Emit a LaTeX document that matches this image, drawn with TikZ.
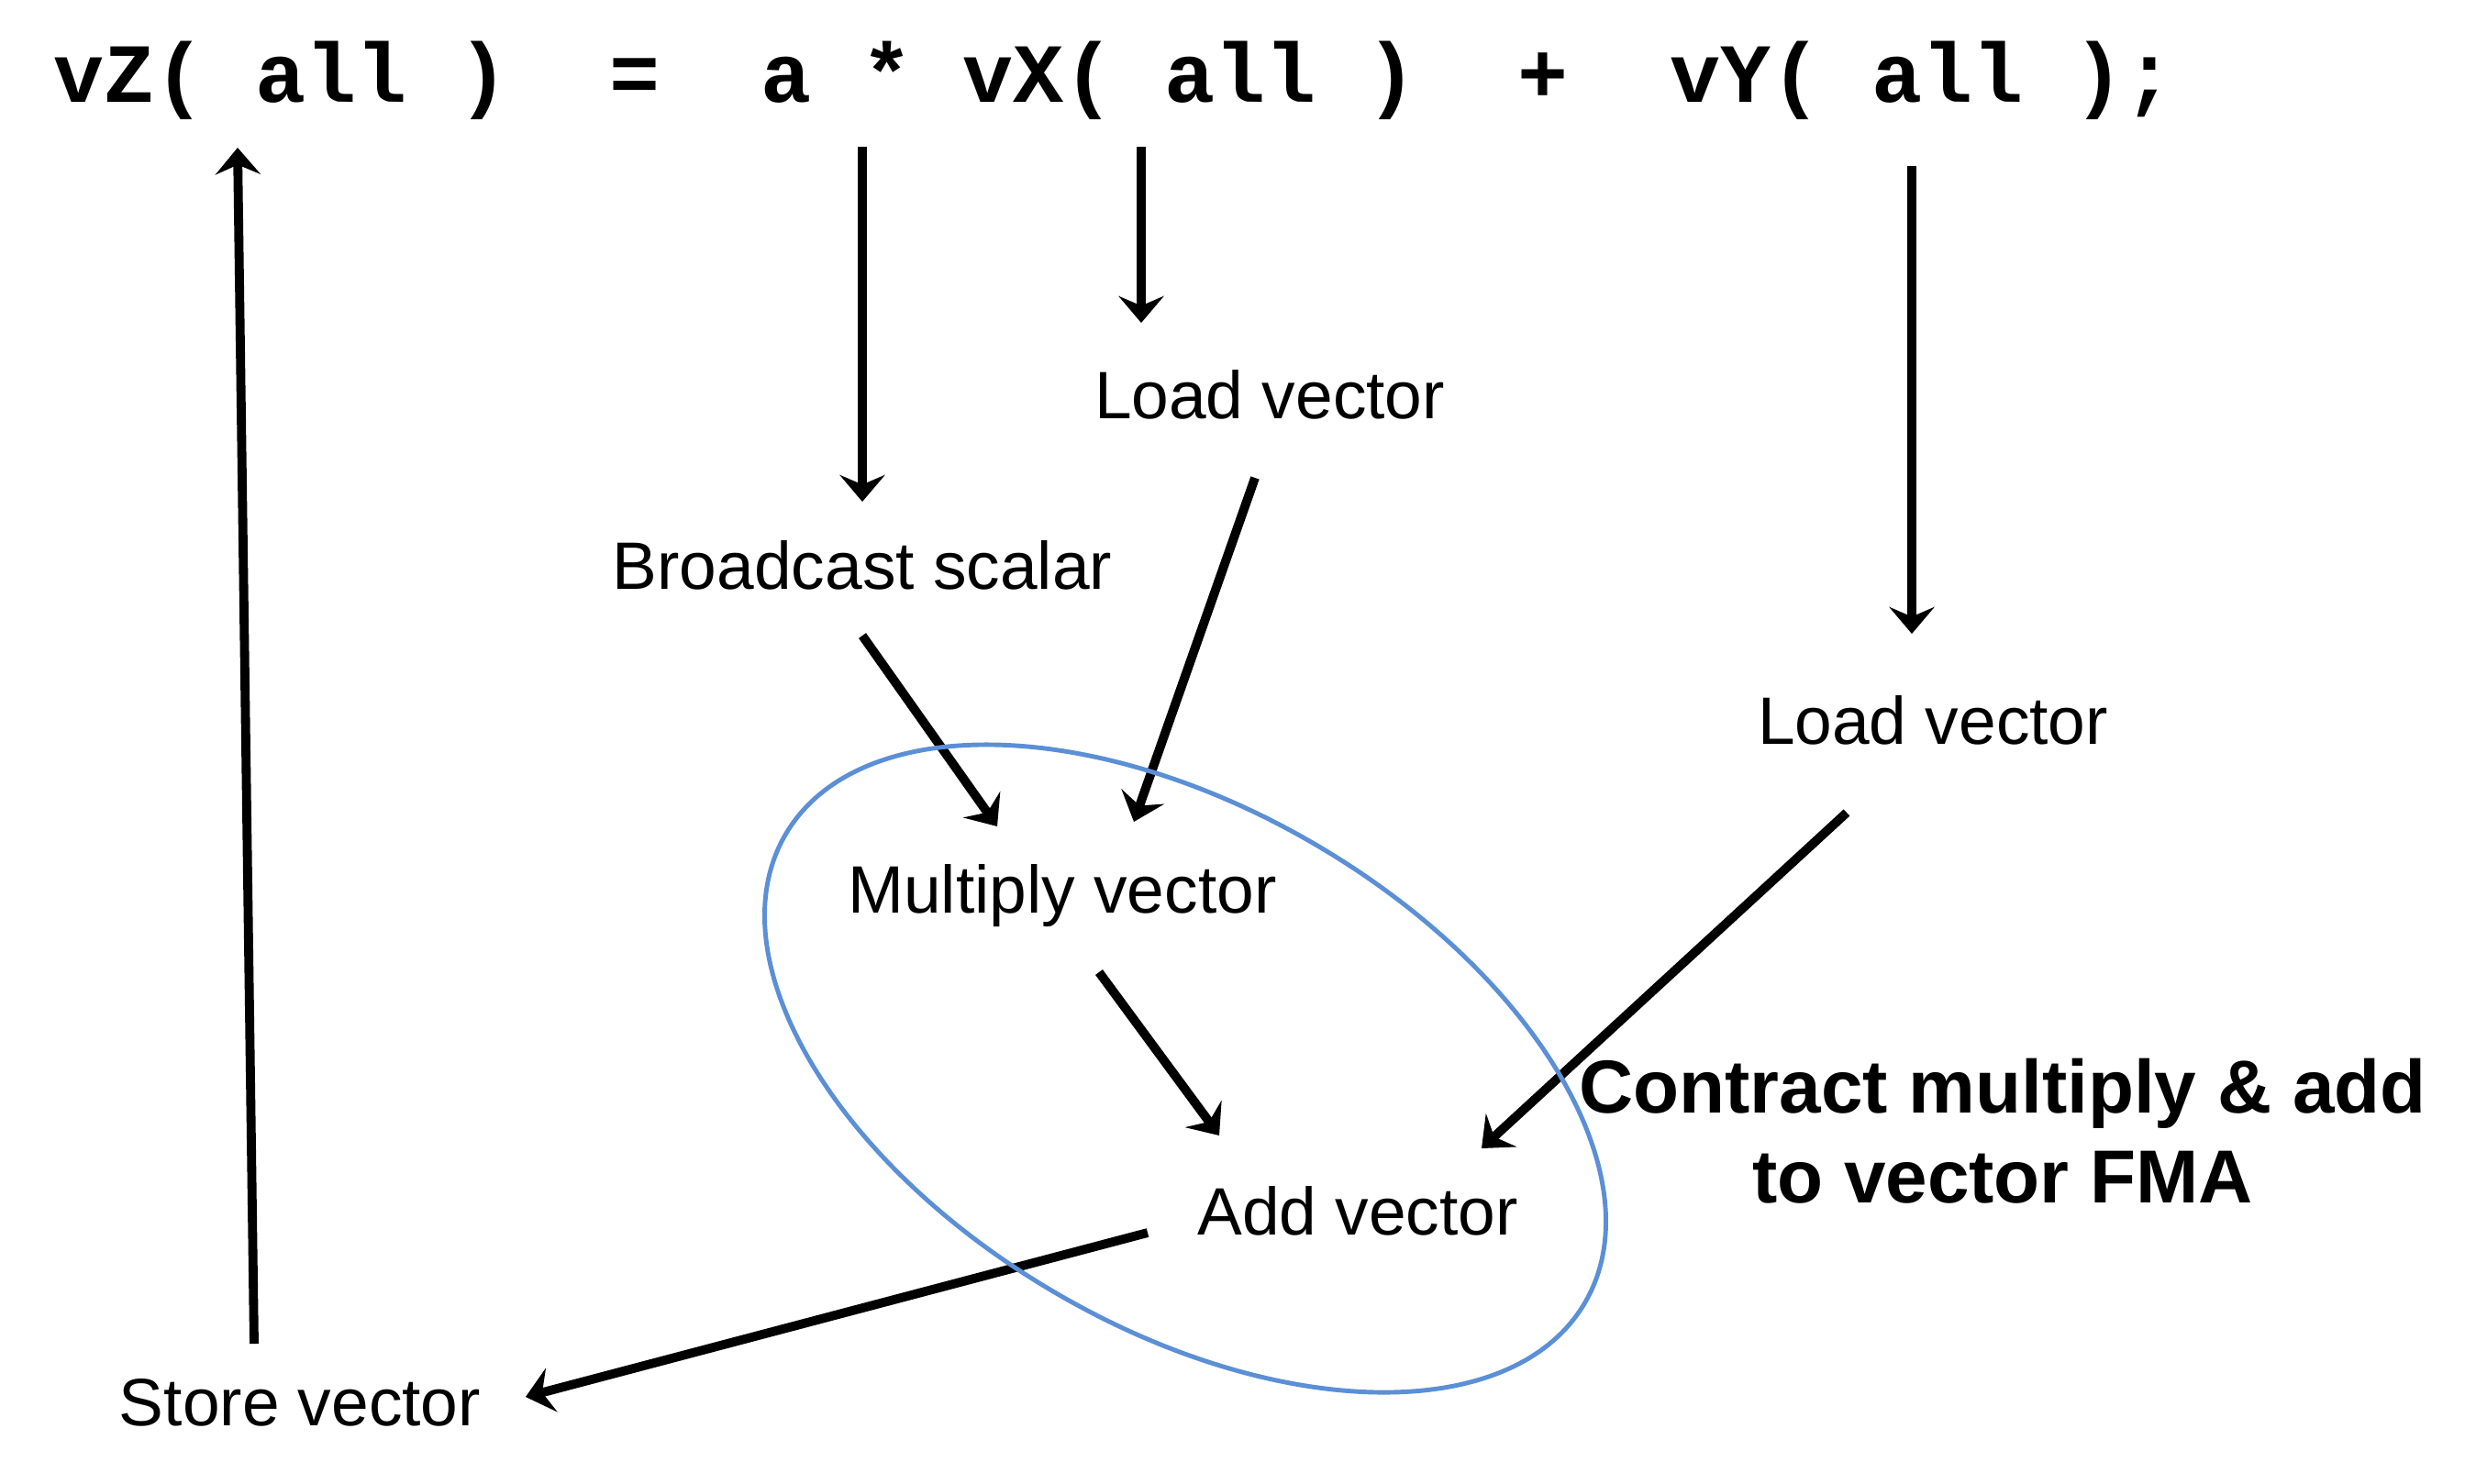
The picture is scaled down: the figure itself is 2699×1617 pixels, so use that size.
\documentclass[tikz,border=0pt]{standalone}
\usepackage{fontspec}
\setmainfont{Liberation Sans}
\newfontfamily\codefont{Liberation Mono}
\usetikzlibrary{arrows.meta}
\definecolor{fmablue}{RGB}{91,143,214}

\begin{document}
\begin{tikzpicture}[x=0.1mm,y=-0.1mm,
  arr/.style={line width=2.8pt,-{Stealth[length=8.3pt,width=14pt,inset=3pt]}},
  lbl/.style={anchor=base,inner sep=0pt,font=\fontsize{20.8}{25}\selectfont}]
\useasboundingbox (0,0) rectangle (2699,1617);
%コード
\node[anchor=base west,inner sep=0pt,font=\codefont\bfseries\fontsize{26.1}{30}\selectfont] (code) at (58,111)
  {vZ(~all~)~~=~~a~*~vX(~all~)~~+~~vY(~all~);};

%ラベル
\node[lbl] (ldx) at (1384,456) {Load vector};
\node[lbl] (bcast) at (940,642) {Broadcast scalar};
\node[lbl] (ldy) at (2107,811) {Load vector};
\node[lbl] (mul) at (1158,995) {Multiply vector};
\node[lbl] (add) at (1480,1346) {Add vector};
\node[lbl] (store) at (327,1554) {Store vector};
\node[align=center,inner sep=0pt,font=\bfseries\fontsize{23.3}{28}\selectfont] (fma) at (2183,1233)
  {Contract multiply \& add\\to vector FMA};

%矢印の端点
\coordinate (aS) at (940,160);   \coordinate (aE) at (940,547);
\coordinate (xS) at (1244,160);  \coordinate (xE) at (1244,352);
\coordinate (yS) at (2084,181);  \coordinate (yE) at (2084,691);
\coordinate (bcS) at (940,693);  \coordinate (bcE) at (1087,901);
\coordinate (ldxS) at (1368,521); \coordinate (ldxE) at (1236,896);
\coordinate (mulS) at (1198,1060); \coordinate (mulE) at (1329,1238);
\coordinate (ldyS) at (2013,886); \coordinate (ldyE) at (1615,1252);
\coordinate (addS) at (1251,1344); \coordinate (addE) at (573,1523);
\coordinate (stS) at (277,1465);  \coordinate (stE) at (259,161);

\draw[arr] (aS) -- (aE);
\draw[arr] (xS) -- (xE);
\draw[arr] (yS) -- (yE);
\draw[arr] (bcS) -- (bcE);
\draw[arr] (ldxS) -- (ldxE);
\draw[arr] (mulS) -- (mulE);
\draw[arr] (ldyS) -- (ldyE);
\draw[arr] (addS) -- (addE);
\draw[arr] (stS) -- (stE);

%FMAの楕円
\draw[fmablue,line width=1.4pt,rotate around={-30.4:(1292,1165)}] (1292,1165) ellipse [x radius=50.5mm,y radius=28.25mm];
\end{tikzpicture}
\end{document}
